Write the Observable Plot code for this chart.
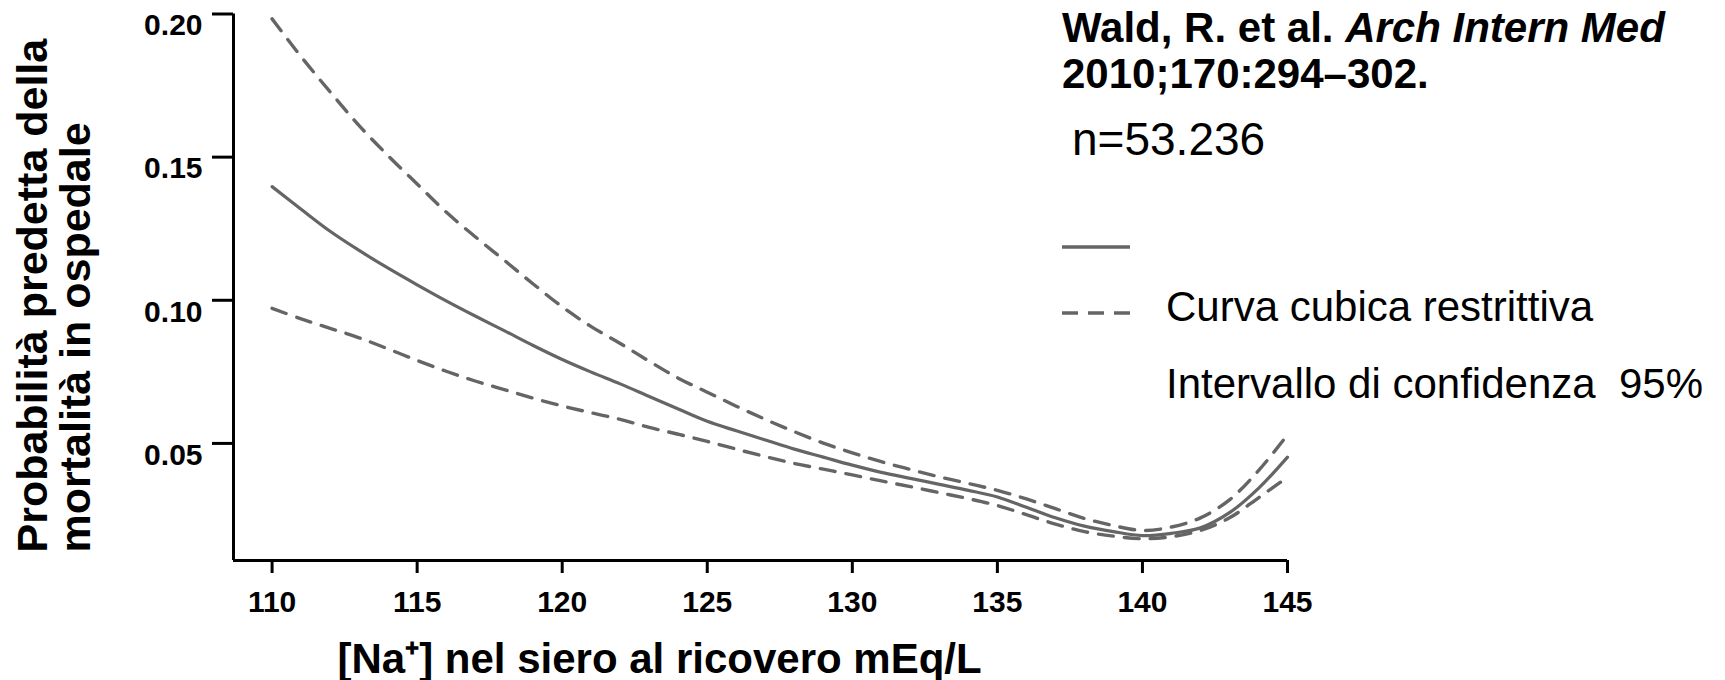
<!DOCTYPE html>
<html>
<head>
<meta charset="utf-8">
<script src="https://cdn.jsdelivr.net/npm/d3@7"></script>
<script src="https://cdn.jsdelivr.net/npm/@observablehq/plot@0.6"></script>
<style>
  html, body { margin: 0; padding: 0; background: #fff; }
  #chart { position: relative; width: 1725px; height: 680px; }
  svg text { white-space: pre; }
</style>
</head>
<body>
<div id="chart"></div>
<script>
// Serum sodium at admission (mEq/L)
const sodium = [110,111,112,113,114,115,116,117,118,119,120,121,122,123,124,125,126,127,128,
  129,130,131,132,133,134,135,136,137,138,139,140,141,142,143,144,145];
// Predicted probability of in-hospital mortality (restricted cubic spline)
const predicted = [0.1397,0.1318,0.1241,0.1174,0.1112,0.1054,0.0998,0.0945,0.0894,0.0842,0.0793,
  0.0749,0.0708,0.0664,0.0620,0.0577,0.0544,0.0512,0.0480,0.0452,0.0424,0.0399,0.0378,0.0357,
  0.0336,0.0313,0.0277,0.0240,0.0211,0.0192,0.0178,0.0186,0.0205,0.0258,0.0343,0.0452];
// 95% confidence interval, upper bound
const upperCI = [0.1983,0.1851,0.1728,0.1610,0.1505,0.1406,0.1308,0.1222,0.1140,0.1057,0.0977,
  0.0908,0.0849,0.0787,0.0728,0.0679,0.0630,0.0584,0.0541,0.0501,0.0467,0.0436,0.0409,0.0383,
  0.0360,0.0336,0.0306,0.0272,0.0238,0.0213,0.0196,0.0208,0.0240,0.0303,0.0405,0.0530];
// 95% confidence interval, lower bound
const lowerCI = [0.0972,0.0935,0.0902,0.0869,0.0830,0.0790,0.0752,0.0718,0.0688,0.0658,0.0631,
  0.0607,0.0584,0.0556,0.0532,0.0507,0.0480,0.0454,0.0430,0.0410,0.0390,0.0369,0.0349,0.0328,
  0.0307,0.0283,0.0251,0.0218,0.0192,0.0176,0.0167,0.0174,0.0196,0.0240,0.0310,0.0382];

const xTicks = [110,115,120,125,130,135,140,145];
const yTicks = [0.05,0.10,0.15,0.20];
const xDomain = [108.67, 145];
const yDomain = [0.0091, 0.20];

const xTitle = "[Na\u207A] nel siero al ricovero mEq/L";
const yTitle1 = "Probabilità predetta della";
const yTitle2 = "mortalità in ospedale";
const citeAuthors = "Wald, R. et al. ";
const citeJournal = "Arch Intern Med";
const citeLine2 = "2010;170:294\u2013302.";
const sampleSize = "n=53.236";
const legendCurve = "Curva cubica restrittiva";
const legendCI = "Intervallo di confidenza  95%";

const rows = sodium.map((s, i) => ({s, m: predicted[i], u: upperCI[i], l: lowerCI[i]}));

const FONT = "'Liberation Sans', Arial, Helvetica, sans-serif";
const GREY = "#656565";

const plot = Plot.plot({
  width: 1725,
  height: 680,
  marginLeft: 233,
  marginRight: 438,
  marginTop: 13.5,
  marginBottom: 120,
  style: {fontFamily: FONT, background: "#fff", color: "#000", overflow: "visible"},
  x: {domain: xDomain},
  y: {domain: yDomain},
  marks: [
    Plot.axisX({ticks: xTicks, tickSize: 13, tickPadding: 17, strokeWidth: 3, fontSize: 30,
      fontWeight: "bold", tickFormat: d3.format("d"), label: null}),
    Plot.axisY({ticks: yTicks, tickSize: 21, tickPadding: 10, strokeWidth: 3, fontSize: 30,
      fontWeight: "bold", tickFormat: d3.format(".2f"), label: null, lineAnchor: "top"}),
    Plot.ruleX([xDomain[0]], {strokeWidth: 3, stroke: "#000"}),
    Plot.ruleY([yDomain[0]], {strokeWidth: 3, stroke: "#000"}),
    Plot.line(rows, {x: "s", y: "u", stroke: GREY, strokeWidth: 3.4, strokeDasharray: "15,11", curve: "catmull-rom"}),
    Plot.line(rows, {x: "s", y: "l", stroke: GREY, strokeWidth: 3.4, strokeDasharray: "15,11", curve: "catmull-rom"}),
    Plot.line(rows, {x: "s", y: "m", stroke: GREY, strokeWidth: 3.2, curve: "catmull-rom"}),
    Plot.text([xTitle], {text: d => d, frameAnchor: "bottom-left", textAnchor: "start", lineAnchor: "bottom",
      dx: 104, dy: 112, fontSize: 42, fontWeight: "bold", fill: "#000"}),
    Plot.text([yTitle1], {text: d => d, frameAnchor: "bottom-left", textAnchor: "start", lineAnchor: "middle",
      rotate: -90, dx: -200, dy: -8, fontSize: 43, fontWeight: "bold", fill: "#000"}),
    Plot.text([yTitle2], {text: d => d, frameAnchor: "bottom-left", textAnchor: "start", lineAnchor: "middle",
      rotate: -90, dx: -157, dy: -8, fontSize: 43, fontWeight: "bold", fill: "#000"})
  ]
});
document.getElementById("chart").appendChild(plot);

// Annotation block: citation, sample size and legend
const svg = d3.select(plot);
const g = svg.append("g").attr("font-family", FONT).attr("fill", "#000").attr("text-anchor", "start");
const c1 = g.append("text").attr("x", 1062).attr("y", 42).attr("font-size", 42).attr("font-weight", "bold");
c1.append("tspan").text(citeAuthors);
c1.append("tspan").attr("font-style", "italic").text(citeJournal);
g.append("text").attr("x", 1062).attr("y", 88).attr("font-size", 42).attr("font-weight", "bold").text(citeLine2);
g.append("text").attr("x", 1072).attr("y", 155).attr("font-size", 46).text(sampleSize);
g.append("line").attr("x1", 1062).attr("x2", 1130).attr("y1", 247).attr("y2", 247)
  .attr("stroke", GREY).attr("stroke-width", 3.4);
g.append("line").attr("x1", 1062).attr("x2", 1130).attr("y1", 313).attr("y2", 313)
  .attr("stroke", GREY).attr("stroke-width", 3.4).attr("stroke-dasharray", "16,10");
g.append("text").attr("x", 1166).attr("y", 321).attr("font-size", 42).text(legendCurve);
g.append("text").attr("x", 1166).attr("y", 398).attr("font-size", 42).text(legendCI);
</script>
</body>
</html>
